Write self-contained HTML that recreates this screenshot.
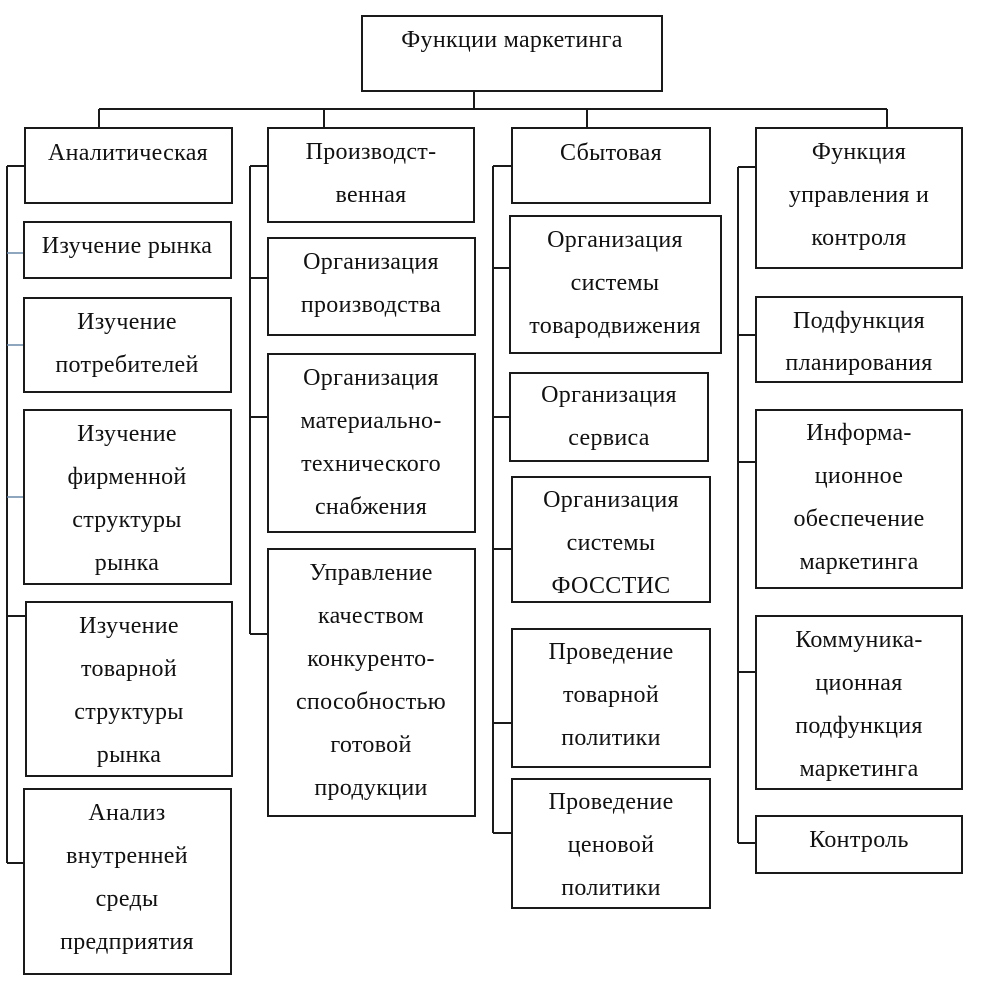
<!DOCTYPE html>
<html><head><meta charset="utf-8"><style>
html,body{margin:0;padding:0;background:#fff;}
svg{display:block;}
text{font-family:"Liberation Serif",serif;font-size:24px;letter-spacing:0.3px;fill:#111;text-anchor:middle;}
.b{fill:none;stroke:#1a1a1a;stroke-width:2;}
.l{stroke:#1a1a1a;stroke-width:2;fill:none;}
.u{stroke:#6a88aa;stroke-width:1.4;fill:none;}
</style></head><body>
<svg width="981" height="993" viewBox="0 0 981 993" xmlns="http://www.w3.org/2000/svg">
<rect x="0" y="0" width="981" height="993" fill="#fff"/>
<!-- top -->
<rect class="b" x="362" y="16" width="300" height="75"/>
<text x="512" y="47">Функции маркетинга</text>
<line class="l" x1="474" y1="91" x2="474" y2="109"/>
<line class="l" x1="99" y1="109" x2="887" y2="109"/>
<line class="l" x1="99" y1="109" x2="99" y2="128"/>
<line class="l" x1="324" y1="109" x2="324" y2="128"/>
<line class="l" x1="587" y1="109" x2="587" y2="128"/>
<line class="l" x1="887" y1="109" x2="887" y2="128"/>

<!-- column 1 -->
<line class="l" x1="7" y1="166" x2="7" y2="863"/>
<line class="l" x1="7" y1="166" x2="25" y2="166"/>
<line class="u" x1="7" y1="253" x2="24" y2="253"/>
<line class="u" x1="7" y1="345" x2="24" y2="345"/>
<line class="u" x1="7" y1="497" x2="24" y2="497"/>
<line class="l" x1="7" y1="616" x2="26" y2="616"/>
<line class="l" x1="7" y1="863" x2="24" y2="863"/>

<rect class="b" x="25" y="128" width="207" height="75"/>
<text x="128" y="160">Аналитическая</text>
<rect class="b" x="24" y="222" width="207" height="56"/>
<text x="127" y="253">Изучение рынка</text>
<rect class="b" x="24" y="298" width="207" height="94"/>
<text x="127" y="329">Изучение</text>
<text x="127" y="372">потребителей</text>
<rect class="b" x="24" y="410" width="207" height="174"/>
<text x="127" y="441">Изучение</text>
<text x="127" y="484">фирменной</text>
<text x="127" y="527">структуры</text>
<text x="127" y="570">рынка</text>
<rect class="b" x="26" y="602" width="206" height="174"/>
<text x="129" y="633">Изучение</text>
<text x="129" y="676">товарной</text>
<text x="129" y="719">структуры</text>
<text x="129" y="762">рынка</text>
<rect class="b" x="24" y="789" width="207" height="185"/>
<text x="127" y="820">Анализ</text>
<text x="127" y="863">внутренней</text>
<text x="127" y="906">среды</text>
<text x="127" y="949">предприятия</text>

<!-- column 2 -->
<line class="l" x1="250" y1="166" x2="250" y2="634"/>
<line class="l" x1="250" y1="166" x2="268" y2="166"/>
<line class="l" x1="250" y1="278" x2="268" y2="278"/>
<line class="l" x1="250" y1="417" x2="268" y2="417"/>
<line class="l" x1="250" y1="634" x2="268" y2="634"/>

<rect class="b" x="268" y="128" width="206" height="94"/>
<text x="371" y="159">Производст-</text>
<text x="371" y="202">венная</text>
<rect class="b" x="268" y="238" width="207" height="97"/>
<text x="371" y="269">Организация</text>
<text x="371" y="312">производства</text>
<rect class="b" x="268" y="354" width="207" height="178"/>
<text x="371" y="385">Организация</text>
<text x="371" y="428">материально-</text>
<text x="371" y="471">технического</text>
<text x="371" y="514">снабжения</text>
<rect class="b" x="268" y="549" width="207" height="267"/>
<text x="371" y="580">Управление</text>
<text x="371" y="623">качеством</text>
<text x="371" y="666">конкуренто-</text>
<text x="371" y="709">способностью</text>
<text x="371" y="752">готовой</text>
<text x="371" y="795">продукции</text>

<!-- column 3 -->
<line class="l" x1="493" y1="166" x2="493" y2="833"/>
<line class="l" x1="493" y1="166" x2="512" y2="166"/>
<line class="l" x1="493" y1="268" x2="510" y2="268"/>
<line class="l" x1="493" y1="417" x2="510" y2="417"/>
<line class="l" x1="493" y1="549" x2="512" y2="549"/>
<line class="l" x1="493" y1="723" x2="512" y2="723"/>
<line class="l" x1="493" y1="833" x2="512" y2="833"/>

<rect class="b" x="512" y="128" width="198" height="75"/>
<text x="611" y="160">Сбытовая</text>
<rect class="b" x="510" y="216" width="211" height="137"/>
<text x="615" y="247">Организация</text>
<text x="615" y="290">системы</text>
<text x="615" y="333">товародвижения</text>
<rect class="b" x="510" y="373" width="198" height="88"/>
<text x="609" y="402">Организация</text>
<text x="609" y="445">сервиса</text>
<rect class="b" x="512" y="477" width="198" height="125"/>
<text x="611" y="507">Организация</text>
<text x="611" y="550">системы</text>
<text x="611" y="593">ФОССТИС</text>
<rect class="b" x="512" y="629" width="198" height="138"/>
<text x="611" y="659">Проведение</text>
<text x="611" y="702">товарной</text>
<text x="611" y="745">политики</text>
<rect class="b" x="512" y="779" width="198" height="129"/>
<text x="611" y="809">Проведение</text>
<text x="611" y="852">ценовой</text>
<text x="611" y="895">политики</text>

<!-- column 4 -->
<line class="l" x1="738" y1="167" x2="738" y2="843"/>
<line class="l" x1="738" y1="167" x2="756" y2="167"/>
<line class="l" x1="738" y1="335" x2="756" y2="335"/>
<line class="l" x1="738" y1="462" x2="756" y2="462"/>
<line class="l" x1="738" y1="672" x2="756" y2="672"/>
<line class="l" x1="738" y1="843" x2="756" y2="843"/>

<rect class="b" x="756" y="128" width="206" height="140"/>
<text x="859" y="159">Функция</text>
<text x="859" y="202">управления и</text>
<text x="859" y="245">контроля</text>
<rect class="b" x="756" y="297" width="206" height="85"/>
<text x="859" y="328">Подфункция</text>
<text x="859" y="370">планирования</text>
<rect class="b" x="756" y="410" width="206" height="178"/>
<text x="859" y="440">Информа-</text>
<text x="859" y="483">ционное</text>
<text x="859" y="526">обеспечение</text>
<text x="859" y="569">маркетинга</text>
<rect class="b" x="756" y="616" width="206" height="173"/>
<text x="859" y="647">Коммуника-</text>
<text x="859" y="690">ционная</text>
<text x="859" y="733">подфункция</text>
<text x="859" y="776">маркетинга</text>
<rect class="b" x="756" y="816" width="206" height="57"/>
<text x="859" y="847">Контроль</text>
</svg>
</body></html>
